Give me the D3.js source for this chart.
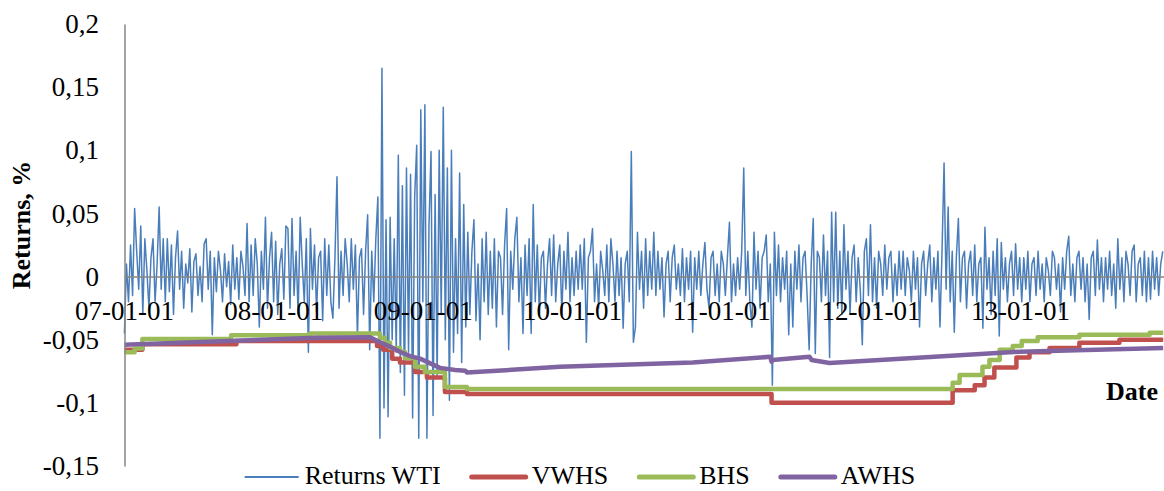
<!DOCTYPE html>
<html>
<head>
<meta charset="utf-8">
<script src="https://cdn.jsdelivr.net/npm/d3@7"></script>
<style>
    body { margin: 0; background: #fff; }
    #wrapper { width: 1164px; height: 491px; }
    .axis text { font-family: "Liberation Serif", "Times New Roman", serif; font-size: 27px; fill: #000; }
    .axis path { stroke: #868686; stroke-width: 1.5; }
</style>
</head>
<body>
<div id="wrapper"></div>
<script>
const dateParser = d3.timeParse('%Y-%m-%d');

// tick labels
const yTicks = [-0.15, -0.1, -0.05, 0, 0.05, 0.1, 0.15, 0.2];
const yTickLabels = ["-0,15", "-0,1", "-0,05", "0", "0,05", "0,1", "0,15", "0,2"];
const xTicks = ["2007-01-01", "2008-01-01", "2009-01-01", "2010-01-01", "2011-01-01", "2012-01-01", "2013-01-01"];

const seriesNames = ["Returns WTI", "VWHS", "BHS", "AWHS"];

// Returns WTI, one reading every 5 days from the start date
const returnsStart = "2007-01-02";
const returnsStepDays = 5;
const returnsWTI = [
    -0.045, 0.01, -0.02, 0.025, -0.015, 0.054, 0.02, -0.01, 0.04, -0.03, 0.03, 0.005, -0.025, 0.015, 0.03, -0.02, 0.01, 0.055, -0.01, 0.03,
    -0.02, 0.03, -0.012, 0.025, -0.03, 0.015, 0.036, -0.01, 0.02, -0.025, 0.01, -0.005, 0.022, -0.028, 0.012, 0.018, -0.015, 0.008, -0.02, 0.026,
    0.03, -0.01, 0.02, -0.046, 0.015, -0.012, 0.02, 0.005, -0.02, 0.018, -0.008, 0.012, -0.022, 0.025, -0.01, 0.015, -0.018, 0.02, 0.008, -0.015,
    0.042, -0.02, 0.025, -0.015, 0.03, 0.01, -0.04, 0.02, -0.01, 0.047, -0.025, 0.015, 0.035, -0.02, 0.028, -0.03, 0.01, 0.022, -0.018, 0.04,
    0.038, -0.025, 0.046, -0.015, 0.02, -0.03, 0.047, 0.01, -0.02, 0.03, -0.06, 0.038, -0.01, 0.025, -0.028, 0.015, 0.02, -0.035, 0.03, -0.015,
    0.025, -0.02, -0.033, 0.015, 0.079, -0.025, 0.02, -0.015, 0.03, 0.01, -0.02, 0.03, -0.01, 0.025, -0.048, 0.015, 0.022, -0.03, 0.02, 0.049,
    -0.058, 0.02, -0.02, 0.03, 0.063, -0.128, 0.165, -0.104, 0.045, -0.111, 0.047, -0.05, 0.03, -0.06, 0.096, -0.076, 0.072, -0.094, 0.086, -0.06,
    0.081, -0.112, 0.063, 0.104, -0.128, 0.132, -0.02, 0.136, -0.128, 0.04, 0.099, -0.11, 0.065, -0.08, 0.1, -0.03, 0.134, -0.05, 0.086, -0.098,
    0.1, -0.06, 0.03, -0.045, 0.082, -0.068, 0.057, -0.04, 0.035, -0.03, 0.02, 0.045, -0.035, 0.01, -0.05, 0.03, -0.02, 0.035, -0.03, 0.02,
    -0.025, 0.03, -0.04, 0.02, 0.015, -0.03, 0.025, 0.054, -0.058, 0.02, -0.01, 0.03, 0.047, -0.02, 0.015, -0.045, 0.025, -0.015, 0.03, -0.045,
    0.057, -0.02, 0.025, -0.03, 0.015, 0.02, -0.025, 0.01, 0.03, -0.015, 0.033, -0.02, 0.01, 0.025, -0.03, 0.02, -0.01, 0.035, -0.02, 0.015,
    -0.015, 0.02, -0.01, 0.025, -0.01, 0.03, -0.052, 0.015, 0.02, 0.038, -0.02, 0.01, -0.025, 0.02, 0.005, -0.015, 0.025, -0.02, 0.03, 0.01,
    -0.02, 0.02, -0.015, 0.015, -0.041, 0.01, 0.02, -0.02, 0.099, -0.052, -0.04, 0.035, -0.01, 0.02, -0.025, 0.03, -0.015, 0.02, -0.01, 0.035,
    -0.015, 0.02, -0.01, 0.015, -0.032, 0.01, 0.02, -0.02, 0.015, 0.025, -0.01, 0.01, -0.015, 0.022, -0.02, 0.015, -0.01, 0.02, -0.044, 0.015,
    -0.01, 0.02, -0.015, 0.01, 0.027, -0.01, -0.025, 0.015, 0.02, -0.015, 0.01, -0.02, 0.02, 0.01, -0.015, 0.015, 0.043, -0.02, 0.01, -0.015,
    0.015, -0.01, 0.02, 0.086, -0.015, 0.02, -0.02, -0.04, 0.035, -0.01, 0.02, -0.025, 0.015, 0.02, 0.033, -0.02, 0.01, -0.086, 0.035, -0.015,
    0.025, -0.02, 0.015, -0.01, 0.02, -0.046, 0.01, -0.04, 0.02, -0.01, 0.025, -0.02, 0.015, 0.02, -0.015, -0.058, 0.01, 0.046, -0.061, 0.02,
    0.015, -0.02, 0.033, -0.015, 0.02, -0.064, 0.051, -0.02, 0.051, -0.025, 0.02, -0.03, 0.041, -0.01, 0.02, -0.03, 0.015, 0.025, -0.02, 0.015,
    -0.01, -0.054, 0.02, 0.03, -0.015, 0.041, -0.02, 0.015, -0.025, 0.02, 0.01, -0.015, 0.025, -0.01, 0.015, 0.02, -0.02, 0.01, -0.015, 0.02,
    -0.01, 0.02, -0.015, 0.015, 0.005, -0.02, 0.02, -0.01, 0.015, -0.04, 0.01, 0.02, -0.015, 0.01, 0.025, -0.02, 0.015, -0.01, 0.02, -0.04,
    0.02, 0.09, -0.01, 0.055, -0.02, 0.02, -0.044, 0.015, 0.046, -0.02, 0.015, 0.02, -0.025, 0.01, 0.02, -0.015, 0.025, -0.02, 0.01, 0.015,
    -0.041, 0.039, -0.01, 0.015, -0.03, 0.02, -0.015, 0.03, -0.047, 0.027, -0.01, 0.015, -0.02, 0.01, 0.02, -0.015, 0.026, -0.01, 0.015, -0.02,
    0.015, -0.01, 0.02, -0.02, 0.01, 0.015, -0.015, 0.02, -0.01, 0.01, -0.02, 0.015, 0.005, -0.015, 0.02, 0.015, -0.01, 0.01, -0.028, 0.015,
    -0.01, 0.02, 0.032, -0.015, 0.01, -0.02, 0.015, 0.02, -0.01, 0.015, -0.02, 0.01, -0.034, 0.015, 0.02, -0.015, 0.029, -0.01, 0.015, -0.02,
    0.015, -0.01, 0.02, -0.015, 0.01, -0.025, 0.03, -0.01, 0.015, -0.02, 0.02, 0.01, -0.015, 0.02, 0.025, -0.02, 0.01, 0.015, -0.015, 0.02,
    -0.02, 0.015, -0.018, 0.02, -0.01, 0.015, -0.015, 0.01, 0.02
];

// VWHS (steps)
const vwhsDates = ["2007-01-02", "2007-02-15", "2007-10-03", "2008-09-11", "2008-09-26", "2008-10-18", "2008-11-06", "2008-12-13",
    "2009-01-11", "2009-02-24", "2009-04-19", "2011-05-04", "2012-07-20", "2012-09-12", "2012-10-06", "2012-10-30", "2012-12-23",
    "2013-01-24", "2013-03-14", "2013-05-26", "2013-09-01", "2013-12-17"];
const vwhsValues = [-0.058, -0.0535, -0.051, -0.055, -0.058, -0.065, -0.068, -0.0755,
    -0.080, -0.0915, -0.093, -0.100, -0.090, -0.086, -0.080, -0.072, -0.064,
    -0.060, -0.0565, -0.0525, -0.050, -0.050];

// BHS (steps)
const bhsDates = ["2007-01-02", "2007-01-27", "2007-02-15", "2007-09-20", "2008-03-31", "2008-09-18", "2008-09-30", "2008-10-13",
    "2008-11-06", "2008-11-18", "2008-12-13", "2009-01-06", "2009-02-24", "2009-04-19", "2012-07-20", "2012-08-06", "2012-10-01",
    "2012-10-18", "2012-11-12", "2012-12-14", "2013-01-05", "2013-02-13", "2013-05-26", "2013-11-14", "2013-12-17"];
const bhsValues = [-0.060, -0.057, -0.0495, -0.0465, -0.045, -0.0485, -0.0525, -0.0565,
    -0.0595, -0.0645, -0.0715, -0.0755, -0.0875, -0.089, -0.084, -0.078, -0.0715,
    -0.066, -0.058, -0.055, -0.051, -0.048, -0.046, -0.0445, -0.0445];

// AWHS
const awhsDates = ["2007-01-02", "2008-04-15", "2008-08-25", "2008-09-18", "2008-10-13", "2008-11-06", "2008-12-01", "2008-12-25",
    "2009-01-18", "2009-02-12", "2009-03-21", "2009-04-15", "2009-04-19", "2009-12-02", "2010-10-23", "2011-05-01", "2011-05-04",
    "2011-05-06", "2011-08-05", "2011-08-10", "2011-09-23", "2012-12-31", "2013-12-17"];
const awhsValues = [-0.054, -0.0485, -0.048, -0.052, -0.0555, -0.0595, -0.063, -0.065,
    -0.0685, -0.0723, -0.074, -0.0745, -0.076, -0.0715, -0.068, -0.0635, -0.0675,
    -0.066, -0.0635, -0.066, -0.0685, -0.0595, -0.0565];

const colors = { "Returns WTI": "#4a7ebb", "VWHS": "#c0504d", "BHS": "#9bbb59", "AWHS": "#8064a2" };

function drawChart() {

    const startDate = dateParser(returnsStart);
    const wti = returnsWTI.map((v, i) => ({ date: d3.timeDay.offset(startDate, i * returnsStepDays), value: v }));
    const pair = (ds, vs) => ds.map((d, i) => ({ date: dateParser(d), value: vs[i] }));
    const vwhs = pair(vwhsDates, vwhsValues);
    const bhs = pair(bhsDates, bhsValues);
    const awhs = pair(awhsDates, awhsValues);

    //dimensions
    let dimensions = {
        width: 1164,
        height: 491,
        margin: { top: 24, right: 0, bottom: 25, left: 124 }
    };
    dimensions.boundW = dimensions.width - dimensions.margin.left - dimensions.margin.right;
    dimensions.boundH = dimensions.height - dimensions.margin.top - dimensions.margin.bottom;

    //canvas
    const svg = d3.select('#wrapper').append('svg')
        .attr('width', dimensions.width)
        .attr('height', dimensions.height)
        .style('background', '#fff');

    const bounds = svg.append('g')
        .attr('transform', `translate(${dimensions.margin.left},${dimensions.margin.top})`);

    //scales
    const xScale = d3.scaleTime()
        .domain([dateParser('2007-01-01'), dateParser('2013-12-19')])
        .range([0, dimensions.boundW]);

    const yScale = d3.scaleLinear()
        .domain([-0.15, 0.2])
        .range([dimensions.boundH, 0]);

    //lines
    const lineGen = d3.line()
        .x(d => xScale(d.date))
        .y(d => yScale(d.value));
    const stepGen = d3.line()
        .curve(d3.curveStepAfter)
        .x(d => xScale(d.date))
        .y(d => yScale(d.value));

    bounds.append('path')
        .attr('d', lineGen(wti))
        .attr('fill', 'none')
        .attr('stroke', colors["Returns WTI"])
        .attr('stroke-width', 1.5)
        .attr('stroke-linejoin', 'round');

    [[vwhs, "VWHS", stepGen], [bhs, "BHS", stepGen], [awhs, "AWHS", lineGen]].forEach(([data, name, gen]) => {
        bounds.append('path')
            .attr('d', gen(data))
            .attr('fill', 'none')
            .attr('stroke', colors[name])
            .attr('stroke-width', 4.5)
            .attr('stroke-linejoin', 'round');
    });

    //axes
    const yAxisGenerator = d3.axisLeft(yScale)
        .tickValues(yTicks)
        .tickSize(0)
        .tickSizeOuter(0)
        .tickPadding(25)
        .tickFormat((d, i) => yTickLabels[i]);

    bounds.append('g')
        .attr('class', 'axis')
        .call(yAxisGenerator)
        .call(g => g.select('.domain').attr('transform', 'translate(0.5,0)'));

    const xAxisGenerator = d3.axisBottom(xScale)
        .tickValues(xTicks.map(dateParser))
        .tickSize(0)
        .tickSizeOuter(0)
        .tickPadding(24)
        .tickFormat(d3.timeFormat('%y-%m-%d'));

    bounds.append('g')
        .attr('class', 'axis')
        .attr('transform', `translate(0,${yScale(0)})`)
        .call(xAxisGenerator);

    //titles
    svg.append('text')
        .attr('transform', 'translate(30,225) rotate(-90)')
        .attr('text-anchor', 'middle')
        .style('font-family', '"Liberation Serif", serif')
        .style('font-size', '26px')
        .style('font-weight', 'bold')
        .text('Returns, %');

    svg.append('text')
        .attr('x', 1106)
        .attr('y', 400)
        .style('font-family', '"Liberation Serif", serif')
        .style('font-size', '26px')
        .style('font-weight', 'bold')
        .text('Date');

    //legend
    const legend = svg.append('g');
    let lx = 0;
    seriesNames.forEach(name => {
        const item = legend.append('g').attr('transform', `translate(${lx},0)`);
        item.append('line')
            .attr('x1', 0).attr('x2', 54)
            .attr('y1', 477).attr('y2', 477)
            .attr('stroke', colors[name])
            .attr('stroke-width', name === "Returns WTI" ? 2 : 5)
            .attr('stroke-linecap', name === "Returns WTI" ? 'butt' : 'round');
        const t = item.append('text')
            .attr('x', 60)
            .attr('y', 484)
            .style('font-family', '"Liberation Serif", serif')
            .style('font-size', '26px')
            .text(name);
        lx += 60 + t.node().getComputedTextLength() + 31;
    });
    const legendW = lx - 31;
    legend.attr('transform', `translate(${580 - legendW / 2},0)`);
}

drawChart();
</script>
</body>
</html>
